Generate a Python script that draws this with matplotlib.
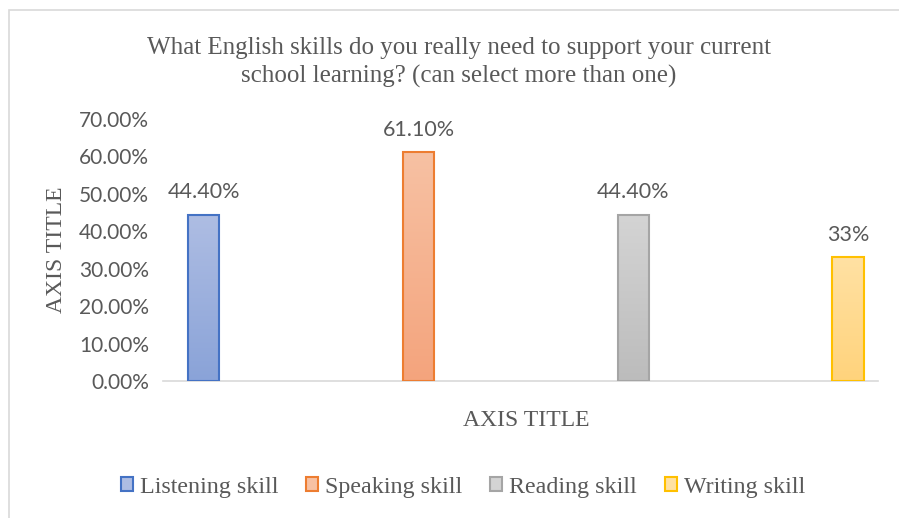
import numpy as np
import matplotlib
matplotlib.use('Agg')
import matplotlib.pyplot as plt
from matplotlib.patches import Rectangle
from matplotlib.colors import LinearSegmentedColormap

# data
skills = ['Listening skill', 'Speaking skill', 'Reading skill', 'Writing skill']
values = [0.444, 0.611, 0.444, 0.33]
labels = ['44.40%', '61.10%', '44.40%', '33%']
yticks = [0.0, 0.1, 0.2, 0.3, 0.4, 0.5, 0.6, 0.7]

# gradient (top, bottom) and edge colours per series
tops = ['#aebde3', '#f7c1a3', '#d4d4d4', '#ffe1a3']
bottoms = ['#8aa3d8', '#f4a47d', '#bcbcbc', '#ffd37c']
edges = ['#4472c4', '#ed7d31', '#a5a5a5', '#ffc000']

W, H = 899, 518
fig = plt.figure(figsize=(W / 100, H / 100), dpi=100)
serif = 'Liberation Serif'
sans = 'Lato'
gray = '#595959'

# outer chart border (only top/left visible)
fig.patches.append(Rectangle((9 / W, -0.1), 1.2, (518 - 10) / H + 0.1, transform=fig.transFigure,
                             fill=False, edgecolor='#d9d9d9', linewidth=1.2))


def px(x0, y0, x1, y1):
    # pixel box (top-left origin) -> figure fraction rect
    return [x0 / W, 1 - y1 / H, (x1 - x0) / W, (y1 - y0) / H]


ax = fig.add_axes(px(163, 119, 878, 381))
x = np.arange(len(skills))
bars = ax.bar(x, values, width=0.145, facecolor='none', zorder=3)
for i, b in enumerate(bars):
    b.set_edgecolor(edges[i])
    b.set_linewidth(1.5)
    cmap = LinearSegmentedColormap.from_list('g%d' % i, [bottoms[i], tops[i]])
    grad = np.linspace(0, 1, 100).reshape(-1, 1)
    bx, by = b.get_x(), b.get_y()
    im = ax.imshow(grad, cmap=cmap, origin='lower', aspect='auto', zorder=2,
                   extent=[bx, bx + b.get_width(), by, by + b.get_height()])
    im.set_clip_path(b)
    ax.text(x[i], values[i] + 0.033, labels[i], ha='center', va='bottom',
            fontsize=15.5, color=gray, family=sans)

ax.set_xlim(-0.19, 3.14)
ax.set_ylim(0, 0.7)
ax.set_yticks(yticks)
ax.set_yticklabels(['%.2f%%' % (v * 100) for v in yticks], family=sans, fontsize=15, color=gray)
ax.tick_params(axis='y', length=0, pad=10)
ax.set_xticks([])
for s in ['top', 'right', 'left']:
    ax.spines[s].set_visible(False)
ax.spines['bottom'].set_color('#d9d9d9')
ax.spines['bottom'].set_linewidth(1.2)
ax.set_facecolor('none')

fig.text(459 / W, 1 - 48 / H, 'What English skills do you really need to support your current',
         ha='center', va='center', family=serif, fontsize=18, color=gray)
fig.text(459 / W, 1 - 76 / H, 'school learning? (can select more than one)',
         ha='center', va='center', family=serif, fontsize=18, color=gray)
fig.text(56 / W, 1 - 250 / H, 'AXIS TITLE', rotation=90, ha='center', va='center',
         family=serif, fontsize=17, color=gray)
fig.text(526 / W, 1 - 420 / H, 'AXIS TITLE', ha='center', va='center',
         family=serif, fontsize=17, color=gray)

# legend
handles = [Rectangle((0, 0), 1, 1, facecolor=tops[i], edgecolor=edges[i], linewidth=1.5)
           for i in range(len(skills))]
fig.legend(handles, skills, loc='center', bbox_to_anchor=(463 / W, 1 - 487 / H), ncol=4,
           frameon=False, prop={'family': serif, 'size': 17.3}, labelcolor=gray,
           handlelength=0.5, handleheight=0.5, handletextpad=0.3, columnspacing=1.15)

fig.savefig('out.png', dpi=100)
